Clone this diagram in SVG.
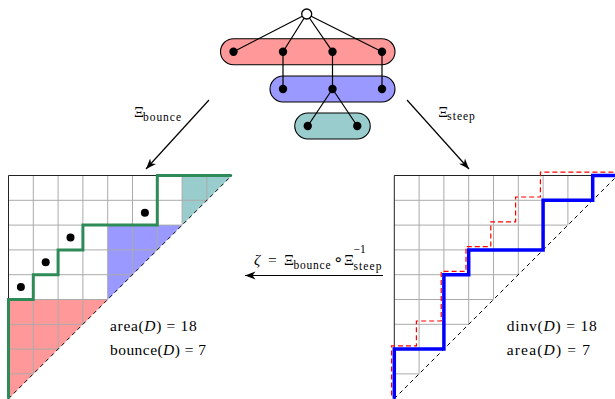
<svg xmlns="http://www.w3.org/2000/svg" width="615" height="399" viewBox="0 0 615 399">
<style>
.t{font-family:"Liberation Serif","Times New Roman",serif;fill:#000;font-size:15.5px}
.s{font-size:11.5px}
.i{font-style:italic}
.edge{stroke:#000;stroke-width:1.2;fill:none}
.pill{stroke:#000;stroke-width:1.1}
.dot{fill:#000}
.grid{stroke:#aaa;stroke-width:1;fill:none}
.border{stroke:#222;stroke-width:1;fill:none}
.diag{stroke:#000;stroke-width:1;stroke-dasharray:4 3.5;fill:none}
.arrow{stroke:#000;stroke-width:1.2;fill:none}
</style>
<defs>
<marker id="arr" markerUnits="userSpaceOnUse" markerWidth="14" markerHeight="10" viewBox="-12 -5 14 10" refX="0" refY="0" orient="auto">
<path d="M0,0 L-10.5,-4 L-7.5,0 L-10.5,4 Z" fill="#000"/>
</marker>
<g id="gridlines">
<path class="grid" d="M0,24.8H198.4M0,49.6H173.6M0,74.4H148.8M0,99.2H124M0,124H99.2M0,148.8H74.4M0,173.6H49.6M0,198.4H24.8M24.8,0V198.4M49.6,0V173.6M74.4,0V148.8M99.2,0V124M124,0V99.2M148.8,0V74.4M173.6,0V49.6M198.4,0V24.8"/>
<path class="border" d="M0,223.2V0H223.2"/>
<path class="diag" d="M0,223.2L223.2,0"/>
</g>
</defs>

<!-- tree -->
<g id="tree">
<rect id="pill-red" class="pill" x="220.5" y="38.7" width="174.5" height="26" rx="13" fill="#ff9999"/>
<rect id="pill-blue" class="pill" x="270" y="76" width="125" height="26" rx="13" fill="#9999ff"/>
<rect id="pill-teal" class="pill" x="294.75" y="113" width="75.5" height="26" rx="13" fill="#99cccc"/>
<g id="tree-edges">
<path class="edge" d="M306.7,14L233.5,51.7M306.7,14L283,51.7M306.7,14L332.5,51.7M306.7,14L382,51.7M283,51.7V89M332.5,51.7V89M382,51.7V89M332.5,89L307.75,126M332.5,89L357.25,126"/>
</g>
<g id="tree-nodes">
<circle cx="306.7" cy="14" r="5" fill="#fff" stroke="#000" stroke-width="1.3"/>
<circle class="dot" cx="233.5" cy="51.7" r="4.2"/>
<circle class="dot" cx="283" cy="51.7" r="4.2"/>
<circle class="dot" cx="332.5" cy="51.7" r="4.2"/>
<circle class="dot" cx="382" cy="51.7" r="4.2"/>
<circle class="dot" cx="283" cy="89" r="4.2"/>
<circle class="dot" cx="332.5" cy="89" r="4.2"/>
<circle class="dot" cx="382" cy="89" r="4.2"/>
<circle class="dot" cx="307.75" cy="126" r="4.2"/>
<circle class="dot" cx="357.25" cy="126" r="4.2"/>
</g>
</g>

<!-- left Dyck path -->
<g id="left-diagram" transform="translate(8.5,175.5)">
<path d="M0,124H99.2L0,223.2Z" fill="#ff9999"/>
<path d="M99.2,49.6H173.6L99.2,124Z" fill="#9999ff"/>
<path d="M173.6,0H223.2L173.6,49.6Z" fill="#99cccc"/>
<use href="#gridlines"/>
<path d="M0,223.2V124H24.8V99.2H49.6V74.4H74.4V49.6H148.8V0H223.2" fill="none" stroke="#2e8b57" stroke-width="3"/>
<circle class="dot" cx="12.4" cy="111.6" r="4"/>
<circle class="dot" cx="37.2" cy="86.8" r="4"/>
<circle class="dot" cx="62" cy="62" r="4"/>
<circle class="dot" cx="136.4" cy="37.2" r="4"/>
</g>
<g id="left-labels">
<text class="t" x="110" y="330.5" textLength="86.7">area(<tspan class="i">D</tspan>) = 18</text>
<text class="t" x="110" y="355" textLength="96">bounce(<tspan class="i">D</tspan>) = 7</text>
</g>

<!-- right Dyck path -->
<g id="right-diagram" transform="translate(394.3,175.5)">
<use href="#gridlines"/>
<path d="M0,223.2V173.6H24.8V148.8H49.6V99.2H74.4V74.4H99.2V49.6H124V24.8H148.8V0H223.2" transform="translate(-2.7,-3.3)" fill="none" stroke="#ff0000" stroke-width="1.2" stroke-dasharray="5 3"/>
<path d="M0,223.2V173.6H49.6V99.2H74.4V74.4H148.8V24.8H198.4V0H223.2" fill="none" stroke="#0000ff" stroke-width="3.5"/>
</g>
<g id="right-labels">
<text class="t" x="506.7" y="330.5" textLength="90">dinv(<tspan class="i">D</tspan>) = 18</text>
<text class="t" x="506.7" y="355" textLength="83.3">area(<tspan class="i">D</tspan>) = 7</text>
</g>

<!-- connectors -->
<g id="connectors">
<line class="arrow" x1="209" y1="100" x2="146" y2="169" marker-end="url(#arr)"/>
<line class="arrow" x1="407" y1="100" x2="469" y2="169" marker-end="url(#arr)"/>
<line class="arrow" x1="383" y1="275.5" x2="245" y2="275.5" marker-end="url(#arr)"/>
<text class="t" x="134" y="117">Ξ</text>
<text class="t s" x="143" y="120.5" textLength="38">bounce</text>
<text class="t" x="438.3" y="116.5">Ξ</text>
<text class="t s" x="447.3" y="119.5" textLength="27.5">steep</text>
<text class="t i" x="254" y="264.5">ζ</text>
<text class="t" x="268" y="264.5">=</text>
<text class="t" x="284" y="264.5">Ξ</text>
<text class="t s" x="293.5" y="268.5" textLength="37">bounce</text>
<text class="t" x="333" y="265" style="font-family:'DejaVu Sans',sans-serif;font-size:16px">∘</text>
<text class="t" x="344" y="264.5">Ξ</text>
<text class="t s" x="353.5" y="253">−1</text>
<text class="t s" x="353.5" y="269.5" textLength="28">steep</text>
</g>
</svg>
